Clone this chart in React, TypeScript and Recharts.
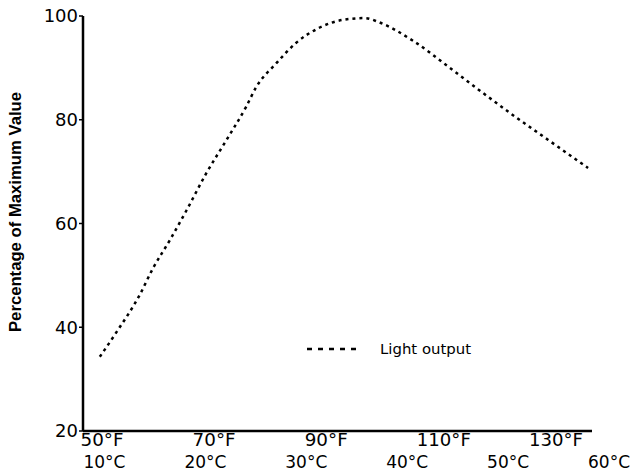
import { Legend, Line, LineChart, XAxis, YAxis } from "recharts";

// temperature in °F, light output in % of maximum
const temperaturaF = [52.2, 55.2, 59.3, 61.7, 64.7, 67.7, 71.2, 74.8, 78.3, 80.1, 83.7, 87.2, 91.3, 95.8, 99.5, 102, 108.1, 114.4, 120.5, 126.4, 132.2, 139.3];
const luz = [34.3, 39.1, 46.2, 51.4, 56.8, 62.6, 69.7, 76.1, 82.5, 86.3, 90.9, 94.8, 97.7, 99.3, 99.6, 98.8, 95.2, 90.2, 85.2, 80.5, 76.1, 70.7];

const ticksF = [50, 70, 90, 110, 130];
const ticksC = [10, 20, 30, 40, 50, 60];
const ticksY = [20, 40, 60, 80, 100];

const datos = temperaturaF.map((f, i) => ({ f, luz: luz[i] }));

const fuenteTicks = "'DejaVu Sans', sans-serif";

function TickF({ x, y, payload }: any) {
    return (
        <text x={x - 7} y={y + 15} textAnchor="start" fontSize={17} fontFamily={fuenteTicks} fill="#000" textLength={String(payload.value).length * 11 + 21} lengthAdjust="spacingAndGlyphs">
            {`${payload.value}°F`}
        </text>
    );
}

function TickC({ x, y, payload }: any) {
    const c = Math.round(((payload.value - 32) * 5) / 9);
    return (
        <text x={x - 4} y={y + 15} textAnchor="start" fontSize={17} fontFamily={fuenteTicks} fill="#000">
            {`${c}°C`}
        </text>
    );
}

function EtiquetaY() {
    return (
        <text
            x={0}
            y={0}
            transform="translate(21, 212) rotate(-90)"
            textAnchor="middle"
            fontSize={17}
            fontWeight="bold"
            fontFamily="'Liberation Sans', Arial, sans-serif"
            textLength={240}
            lengthAdjust="spacingAndGlyphs"
            fill="#000"
        >
            Percentage of Maximum Value
        </text>
    );
}

function Leyenda() {
    return (
        <svg width={170} height={20}>
            <line x1={2} y1={8} x2={57} y2={8} stroke="#000" strokeWidth={2.5} strokeDasharray="5 6" />
            <text x={75} y={13} fontSize={14} fontFamily={fuenteTicks} textLength={91} lengthAdjust="spacingAndGlyphs" fill="#000">
                Light output
            </text>
        </svg>
    );
}

export default function App() {
    return (
        <div style={{ position: "absolute", left: 0, top: 0, background: "#fff" }}>
            <LineChart width={637} height={475} data={datos} margin={{ top: 16, right: 45, bottom: 0, left: 0 }}>
                <XAxis
                    xAxisId="a"
                    dataKey="f"
                    type="number"
                    domain={[49.2, 140]}
                    ticks={ticksF}
                    interval={0}
                    height={22}
                    tickSize={0}
                    tickMargin={0}
                    tickLine={false}
                    axisLine={{ stroke: "#000", strokeWidth: 2.5 }}
                    tick={<TickF />}
                    allowDataOverflow
                />
                <XAxis
                    xAxisId="b"
                    dataKey="f"
                    type="number"
                    domain={[49.2, 140]}
                    ticks={ticksC.map((c) => (c * 9) / 5 + 32)}
                    interval={0}
                    height={22}
                    tickSize={0}
                    tickMargin={0}
                    tickLine={false}
                    axisLine={false}
                    tick={<TickC />}
                    allowDataOverflow
                />
                <YAxis
                    type="number"
                    domain={[20, 100]}
                    ticks={ticksY}
                    interval={0}
                    width={83}
                    tickSize={4}
                    tickMargin={1}
                    tickLine={{ stroke: "#000", strokeWidth: 1.5 }}
                    axisLine={{ stroke: "#000", strokeWidth: 2.5 }}
                    tick={{ fill: "#000", fontSize: 18, fontFamily: fuenteTicks }}
                    label={<EtiquetaY />}
                />
                <Legend
                    layout="horizontal"
                    verticalAlign="middle"
                    align="center"
                    content={<Leyenda />}
                    wrapperStyle={{ position: "absolute", left: 305, top: 341, width: 170 }}
                />
                <Line
                    xAxisId="a"
                    type="monotone"
                    dataKey="luz"
                    stroke="#000"
                    strokeWidth={2.5}
                    strokeDasharray="3 4"
                    dot={false}
                    isAnimationActive={false}
                />
            </LineChart>
        </div>
    );
}
